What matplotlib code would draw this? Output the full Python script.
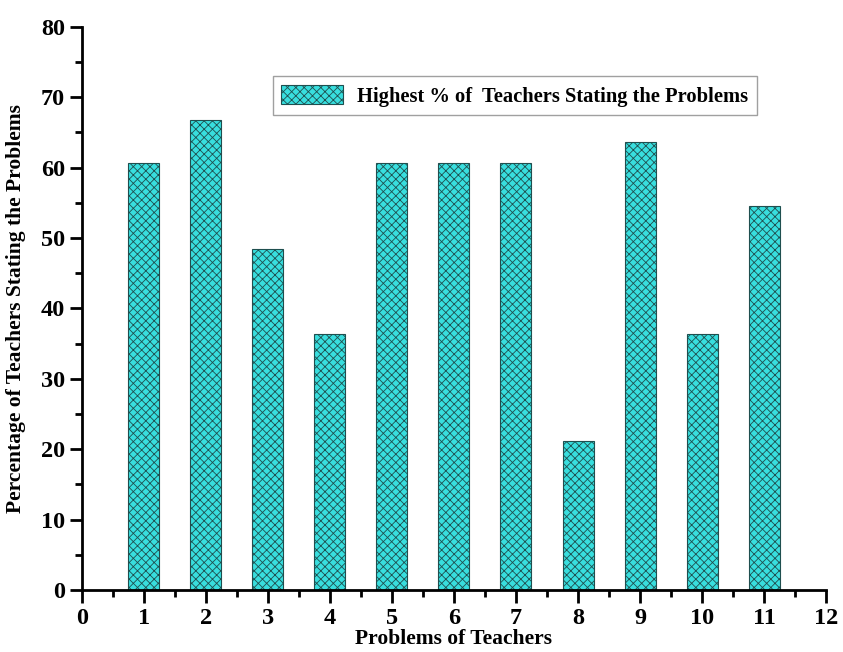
import matplotlib.pyplot as plt
from matplotlib.ticker import MultipleLocator

plt.rcParams['font.family'] = ['Liberation Serif', 'DejaVu Serif']
plt.rcParams['font.weight'] = 'bold'
plt.rcParams['hatch.linewidth'] = 0.6
plt.rcParams['hatch.color'] = '#1a6f6f'

problems = [1, 2, 3, 4, 5, 6, 7, 8, 9, 10, 11]
percent = [60.6, 66.7, 48.5, 36.4, 60.6, 60.6, 60.6, 21.2, 63.6, 36.4, 54.5]

fig = plt.figure(figsize=(8.43, 6.52), dpi=100)
ax = fig.add_axes([0.097, 0.095, 0.883, 0.864])

ax.bar(problems, percent, width=0.5, color='#38dede', edgecolor='#1f4f4f',
       linewidth=0.8, hatch='xxxx',
       label='Highest % of  Teachers Stating the Problems')

ax.set_xlim(0, 12)
ax.set_ylim(0, 80)
ax.xaxis.set_major_locator(MultipleLocator(1))
ax.xaxis.set_minor_locator(MultipleLocator(0.5))
ax.yaxis.set_major_locator(MultipleLocator(10))
ax.yaxis.set_minor_locator(MultipleLocator(5))

for s in ['top', 'right']:
    ax.spines[s].set_visible(False)
for s in ['left', 'bottom']:
    ax.spines[s].set_linewidth(2)

ax.tick_params(which='major', direction='out', length=9, width=2, labelsize=17.5, pad=3)
ax.tick_params(axis='x', which='major', pad=4)
ax.tick_params(which='minor', direction='out', length=5, width=2)

ax.set_xlabel('Problems of Teachers', fontsize=15.5, fontweight='bold', labelpad=0)
ax.set_ylabel('Percentage of Teachers Stating the Problems', fontsize=15.5,
              fontweight='bold', labelpad=11)

leg = ax.legend(loc='upper left', bbox_to_anchor=(0.243, 0.93), fontsize=14.8,
                frameon=True, fancybox=False, edgecolor='#888888',
                handlelength=3.0, handleheight=1.1, handletextpad=0.7,
                borderpad=0.4)
leg.get_frame().set_linewidth(1)

fig.savefig('out.png', dpi=100)
